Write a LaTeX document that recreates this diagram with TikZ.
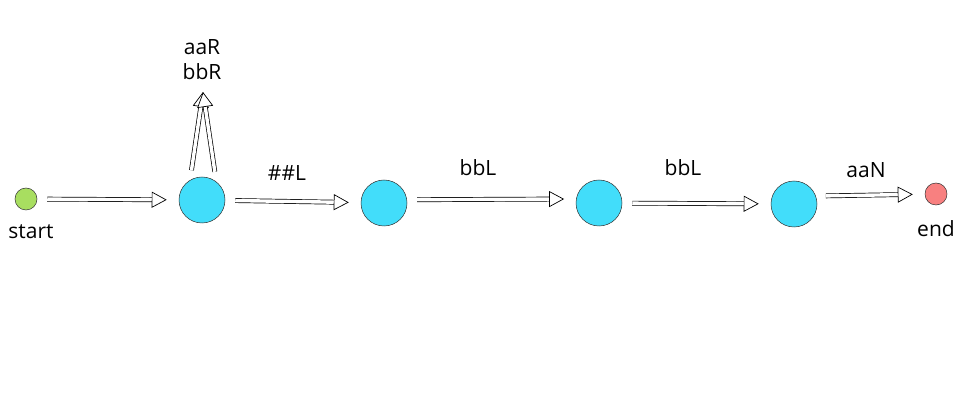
\documentclass[tikz,border=0pt]{standalone}
\usepackage{fontspec}
\setmainfont{Open Sans}
\usetikzlibrary{arrows.meta}

\definecolor{startgreen}{RGB}{168,222,96}
\definecolor{statecyan}{RGB}{66,221,250}
\definecolor{endred}{RGB}{248,128,128}

\tikzset{
    state/.style={circle, draw=black!80, line width=0.5pt, fill=statecyan, minimum size=46pt, inner sep=0pt},
    term/.style={circle, draw=black!80, line width=0.5pt, minimum size=22pt, inner sep=0pt},
    lbl/.style={font=\fontsize{21}{25}\selectfont, inner sep=0pt},
    arr/.style={double, double distance=3.4pt, line width=0.7pt, -{Triangle[length=15pt, width=16pt, fill=white, line width=0.7pt]}, shorten <=10pt, shorten >=12pt}
}

\begin{document}
\begin{tikzpicture}[x=1pt, y=-1pt]
    \useasboundingbox (0,0) rectangle (969,403);
    \node[term, fill=startgreen] (n0) at (26,199) {};
    \node[state] (n1) at (202,200) {};
    \node[state] (n2) at (384,203) {};
    \node[state] (n3) at (599,203) {};
    \node[state] (n4) at (794,204) {};
    \node[term, fill=endred] (n5) at (936,194) {};
    \coordinate (lp) at (203,92);
    \node[lbl] (t0) at (31,232) {start};
    \node[lbl] (t5) at (936,229) {end};
    \node[lbl, align=center] (t1) at (202,60) {aaR\\bbR};
    \node[lbl] (t2) at (287,173) {\#\#L};
    \node[lbl] (t3) at (478,168) {bbL};
    \node[lbl] (t4) at (683,168) {bbL};
    \node[lbl] (t6) at (866,170) {aaN};
    \draw[arr] (n0) -- (n1);
    \draw[arr] (n1) -- (n2);
    \draw[arr] (n2.8) -- (n3.170);
    \draw[arr] (n3) -- (n4);
    \draw[arr] (n4.20) -- (n5);
    \draw[arr, shorten >=0pt] (n1.121) -- (lp);
    \draw[arr, shorten >=0pt] (n1.52) -- (lp);
\end{tikzpicture}
\end{document}
